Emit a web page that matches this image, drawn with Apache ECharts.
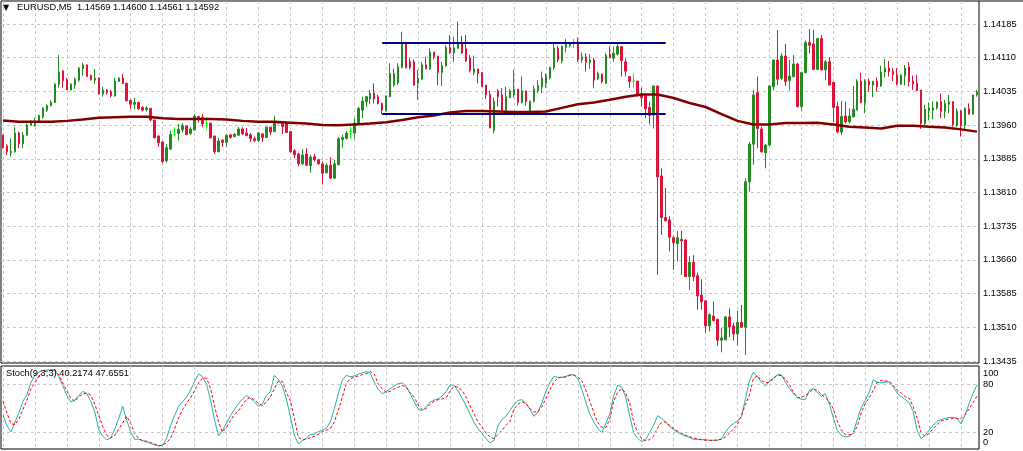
<!DOCTYPE html>
<html>
<head>
<meta charset="utf-8">
<script src="https://cdn.jsdelivr.net/npm/echarts@6/dist/echarts.min.js"></script>
<style>
html, body { margin: 0; padding: 0; background: #fff; }
#chart { width: 1023px; height: 451px; }
</style>
</head>
<body>
<div id="chart"></div>
<script>
// EURUSD M5 candles
var opens = [
  1.13936,1.13912,1.13897,1.13899,1.13941,1.13917,1.13936,1.13958,1.13957,1.13968,
  1.13977,1.13992,1.14002,1.14009,1.14050,1.14080,1.14060,1.14037,1.14048,1.14059,
  1.14085,1.14093,1.14070,1.14059,1.14064,1.14028,1.14037,1.14033,1.14024,1.14056,
  1.14064,1.14052,1.14014,1.14005,1.14009,1.13998,1.13993,1.13996,1.13970,1.13934,
  1.13921,1.13879,1.13905,1.13938,1.13940,1.13948,1.13957,1.13940,1.13948,1.13978,
  1.13976,1.13963,1.13963,1.13934,1.13899,1.13925,1.13920,1.13937,1.13933,1.13936,
  1.13950,1.13941,1.13937,1.13928,1.13924,1.13939,1.13931,1.13954,1.13944,1.13963,
  1.13966,1.13963,1.13944,1.13901,1.13894,1.13872,1.13894,1.13868,1.13888,1.13881,
  1.13872,1.13852,1.13869,1.13840,1.13870,1.13926,1.13929,1.13944,1.13941,1.13963,
  1.13992,1.14011,1.14017,1.14030,1.14022,1.14007,1.13991,1.14022,1.14048,1.14053,
  1.14087,1.14141,1.14100,1.14100,1.14052,1.14061,1.14093,1.14084,1.14122,1.14113,
  1.14076,1.14091,1.14132,1.14120,1.14130,1.14141,1.14130,1.14108,1.14076,1.14084,
  1.14076,1.14048,1.14027,1.13947,1.14035,1.14026,1.13992,1.14020,1.14026,1.14039,
  1.14009,1.14035,1.13988,1.14012,1.14035,1.14044,1.14052,1.14064,1.14087,1.14130,
  1.14102,1.14132,1.14136,1.14141,1.14145,1.14104,1.14111,1.14098,1.14104,1.14062,
  1.14072,1.14052,1.14117,1.14108,1.14117,1.14134,1.14100,1.14067,1.14057,1.14057,
  1.14028,1.14026,1.13998,1.13981,1.14046,1.13845,1.13752,1.13747,1.13707,1.13694,
  1.13703,1.13702,1.13620,1.13652,1.13622,1.13579,1.13566,1.13510,1.13532,1.13525,
  1.13478,1.13479,1.13530,1.13510,1.13492,1.13518,1.13507,1.13832,1.13916,1.14031,
  1.13950,1.13897,1.13914,1.14044,1.14104,1.14063,1.14113,1.14058,1.14067,1.14095,
  1.14000,1.14076,1.14143,1.14140,1.14083,1.14152,1.14082,1.14100,1.14054,1.14000,
  1.13943,1.13979,1.13966,1.13977,1.13992,1.14057,1.14009,1.14057,1.14048,1.14057,
  1.14046,1.14077,1.14086,1.14079,1.14070,1.14050,1.14069,1.14089,1.14057,1.14052,
  1.14037,1.13962,1.13992,1.13992,1.13997,1.14011,1.13989,1.14005,1.14011,1.13958,
  1.13990,1.13958,1.13995,1.13983,1.14026
];
var closes = [
  1.13908,1.13899,1.13900,1.13941,1.13917,1.13936,1.13959,1.13965,1.13968,1.13980,
  1.13996,1.14002,1.14010,1.14050,1.14077,1.14058,1.14037,1.14050,1.14061,1.14086,
  1.14093,1.14067,1.14060,1.14063,1.14028,1.14037,1.14031,1.14024,1.14057,1.14063,
  1.14051,1.14013,1.14005,1.14009,1.13995,1.13992,1.13997,1.13970,1.13930,1.13919,
  1.13877,1.13908,1.13938,1.13938,1.13949,1.13957,1.13937,1.13950,1.13979,1.13972,
  1.13961,1.13963,1.13930,1.13899,1.13923,1.13920,1.13936,1.13931,1.13938,1.13950,
  1.13939,1.13935,1.13928,1.13924,1.13941,1.13931,1.13954,1.13943,1.13966,1.13966,
  1.13955,1.13942,1.13899,1.13892,1.13872,1.13892,1.13869,1.13887,1.13881,1.13872,
  1.13851,1.13869,1.13840,1.13872,1.13928,1.13931,1.13941,1.13944,1.13963,1.13996,
  1.14012,1.14022,1.14030,1.14017,1.14007,1.13992,1.14024,1.14074,1.14074,1.14089,
  1.14141,1.14087,1.14087,1.14048,1.14063,1.14093,1.14084,1.14122,1.14111,1.14076,
  1.14091,1.14132,1.14120,1.14131,1.14141,1.14120,1.14102,1.14080,1.14084,1.14074,
  1.14044,1.14026,1.13952,1.14012,1.14022,1.13992,1.14022,1.14035,1.14039,1.14009,
  1.14035,1.14011,1.14012,1.14039,1.14047,1.14064,1.14068,1.14087,1.14131,1.14104,
  1.14134,1.14139,1.14141,1.14141,1.14104,1.14111,1.14099,1.14104,1.14059,1.14074,
  1.14056,1.14115,1.14109,1.14119,1.14134,1.14103,1.14079,1.14056,1.14057,1.14026,
  1.14020,1.13995,1.13980,1.14046,1.13843,1.13752,1.13745,1.13708,1.13696,1.13707,
  1.13700,1.13620,1.13652,1.13620,1.13577,1.13564,1.13510,1.13535,1.13522,1.13478,
  1.13483,1.13530,1.13508,1.13492,1.13518,1.13507,1.13832,1.13916,1.14026,1.13951,
  1.13899,1.13914,1.14046,1.14104,1.14061,1.14113,1.14056,1.14068,1.14095,1.14000,
  1.14076,1.14143,1.14137,1.14083,1.14152,1.14082,1.14100,1.14048,1.13998,1.13943,
  1.13978,1.13966,1.13979,1.13994,1.14057,1.14009,1.14057,1.14048,1.14057,1.14044,
  1.14077,1.14086,1.14078,1.14072,1.14050,1.14070,1.14086,1.14056,1.14050,1.14035,
  1.13962,1.13994,1.13997,1.13997,1.14010,1.13989,1.14007,1.14011,1.13960,1.13990,
  1.13957,1.13996,1.13983,1.14026,1.14033
];
var lows = [
  1.13906,1.13892,1.13888,1.13897,1.13907,1.13907,1.13935,1.13957,1.13955,1.13966,
  1.13973,1.13988,1.14000,1.14008,1.14042,1.14042,1.14037,1.14036,1.14040,1.14055,
  1.14068,1.14066,1.14058,1.14050,1.14027,1.14022,1.14027,1.14020,1.14022,1.14055,
  1.14051,1.14012,1.13995,1.13994,1.13992,1.13989,1.13989,1.13967,1.13929,1.13910,
  1.13873,1.13875,1.13903,1.13933,1.13924,1.13942,1.13937,1.13936,1.13946,1.13964,
  1.13954,1.13949,1.13929,1.13894,1.13898,1.13910,1.13911,1.13928,1.13931,1.13935,
  1.13936,1.13934,1.13921,1.13920,1.13921,1.13921,1.13930,1.13936,1.13943,1.13962,
  1.13938,1.13941,1.13897,1.13885,1.13867,1.13870,1.13867,1.13852,1.13877,1.13870,
  1.13826,1.13851,1.13838,1.13838,1.13869,1.13908,1.13926,1.13929,1.13928,1.13961,
  1.13974,1.13999,1.14005,1.14007,1.14005,1.13983,1.13989,1.14021,1.14044,1.14048,
  1.14085,1.14085,1.14083,1.14046,1.14015,1.14059,1.14084,1.14082,1.14106,1.14048,
  1.14046,1.14089,1.14117,1.14100,1.14129,1.14117,1.14100,1.14076,1.14070,1.14052,
  1.14044,1.14017,1.13952,1.13940,1.14000,1.13988,1.13988,1.14019,1.14020,1.14002,
  1.14007,1.14002,1.13987,1.14009,1.14030,1.14030,1.14042,1.14061,1.14082,1.14099,
  1.14097,1.14121,1.14132,1.14131,1.14100,1.14097,1.14078,1.14084,1.14041,1.14059,
  1.14052,1.14050,1.14108,1.14100,1.14114,1.14067,1.14067,1.14042,1.14042,1.14022,
  1.14000,1.13974,1.13960,1.13951,1.13624,1.13713,1.13743,1.13676,1.13635,1.13654,
  1.13624,1.13620,1.13590,1.13610,1.13546,1.13546,1.13495,1.13497,1.13520,1.13466,
  1.13451,1.13479,1.13485,1.13477,1.13466,1.13505,1.13445,1.13810,1.13870,1.13907,
  1.13897,1.13862,1.13912,1.14036,1.14048,1.14059,1.14046,1.14036,1.14065,1.13998,
  1.13991,1.14074,1.14119,1.14082,1.14082,1.14080,1.14059,1.14048,1.13966,1.13940,
  1.13936,1.13962,1.13962,1.13976,1.13992,1.14007,1.13985,1.14033,1.14021,1.14033,
  1.14044,1.14065,1.14067,1.14057,1.14047,1.14048,1.14047,1.14045,1.14037,1.14035,
  1.13950,1.13957,1.13969,1.13972,1.13993,1.13974,1.13974,1.13985,1.13955,1.13955,
  1.13933,1.13950,1.13983,1.13982,1.14022
];
var highs = [
  1.13937,1.13916,1.13929,1.13954,1.13944,1.13943,1.13962,1.13970,1.13975,1.13982,
  1.13999,1.14005,1.14014,1.14052,1.14115,1.14080,1.14064,1.14052,1.14065,1.14088,
  1.14098,1.14094,1.14071,1.14084,1.14065,1.14044,1.14039,1.14037,1.14064,1.14066,
  1.14073,1.14053,1.14015,1.14019,1.14011,1.14001,1.14001,1.13997,1.13970,1.13936,
  1.13921,1.13916,1.13946,1.13954,1.13961,1.13963,1.13957,1.13954,1.13983,1.13979,
  1.13983,1.13976,1.13964,1.13935,1.13930,1.13927,1.13937,1.13938,1.13941,1.13954,
  1.13954,1.13952,1.13941,1.13933,1.13943,1.13939,1.13955,1.13954,1.13979,1.13968,
  1.13966,1.13963,1.13944,1.13905,1.13897,1.13905,1.13907,1.13892,1.13894,1.13883,
  1.13877,1.13874,1.13887,1.13881,1.13932,1.13937,1.13945,1.13955,1.13974,1.13999,
  1.14022,1.14024,1.14037,1.14052,1.14026,1.14009,1.14024,1.14097,1.14085,1.14097,
  1.14167,1.14141,1.14108,1.14105,1.14082,1.14100,1.14111,1.14130,1.14122,1.14113,
  1.14100,1.14137,1.14160,1.14156,1.14190,1.14158,1.14160,1.14115,1.14114,1.14084,
  1.14076,1.14048,1.14035,1.14020,1.14039,1.14041,1.14044,1.14039,1.14082,1.14039,
  1.14067,1.14035,1.14013,1.14047,1.14059,1.14078,1.14074,1.14089,1.14141,1.14136,
  1.14136,1.14151,1.14143,1.14151,1.14154,1.14121,1.14119,1.14117,1.14109,1.14078,
  1.14074,1.14119,1.14135,1.14134,1.14139,1.14135,1.14108,1.14067,1.14074,1.14057,
  1.14042,1.14030,1.14011,1.14047,1.14046,1.13862,1.13818,1.13755,1.13711,1.13722,
  1.13722,1.13703,1.13666,1.13668,1.13629,1.13614,1.13566,1.13538,1.13565,1.13525,
  1.13505,1.13532,1.13549,1.13517,1.13544,1.13557,1.13840,1.13921,1.14037,1.14067,
  1.13955,1.13916,1.14048,1.14104,1.14171,1.14119,1.14140,1.14104,1.14115,1.14098,
  1.14078,1.14147,1.14173,1.14171,1.14152,1.14160,1.14104,1.14111,1.14055,1.14011,
  1.14013,1.14011,1.13996,1.14046,1.14061,1.14076,1.14061,1.14063,1.14057,1.14065,
  1.14091,1.14106,1.14102,1.14086,1.14086,1.14073,1.14093,1.14099,1.14069,1.14071,
  1.14037,1.14004,1.14009,1.14011,1.14011,1.14029,1.14015,1.14026,1.14011,1.13996,
  1.13992,1.13998,1.14007,1.14026,1.14037
];

// moving average, sampled every 4 bars
var maIdx = [0,4,8,12,16,20,24,28,32,36,40,44,48,52,56,60,64,68,72,76,80,84,88,92,96,100,
  104,108,112,116,120,124,128,132,136,140,144,148,152,156,160,164,168,172,176,180,184,188,
  192,196,200,204,208,212,216,220,224,228,232,236,240,244];
var maVal = [1.13969,1.13966,1.13966,1.13966,1.13968,1.13971,1.13975,1.13976,1.13977,1.13977,
  1.13974,1.13972,1.13972,1.13972,1.13971,1.13968,1.13966,1.13966,1.13964,1.13962,1.13959,
  1.13958,1.13960,1.13962,1.13965,1.13970,1.13976,1.13980,1.13987,1.13990,1.13990,1.13989,
  1.13988,1.13988,1.13989,1.13997,1.14005,1.14009,1.14015,1.14022,1.14027,1.14027,1.14019,
  1.14008,1.13999,1.13983,1.13968,1.13960,1.13960,1.13963,1.13963,1.13964,1.13960,1.13955,
  1.13953,1.13951,1.13957,1.13957,1.13955,1.13953,1.13949,1.13944];

// range box drawn on the chart: two levels between bar 95 and bar 166
var boxLevels = [1.14142, 1.13984];
var boxFrom = 95, boxTo = 166;

// Stochastic (9,3,3)
var stochK = [
  41.9,28.7,20.9,33.3,44.8,58.9,67.1,82.4,91.1,95.2,
  96.9,97.7,98.1,96.9,89.4,78.3,65.9,58.5,60.5,66.3,
  71.3,68.4,58.9,45.7,23.8,15.5,11.0,13.9,24.2,37.8,
  52.7,35.3,20.9,11.8,11.8,10.1,8.5,6.8,4.8,3.5,
  4.4,13.4,29.1,41.5,52.7,58.5,64.2,72.9,83.6,92.7,
  89.4,79.9,60.1,35.3,15.9,22.5,32.0,41.1,48.9,56.0,
  61.8,66.3,62.6,58.0,52.7,55.6,66.3,71.3,91.1,86.1,
  77.4,61.8,39.5,16.7,6.0,10.1,13.4,18.0,18.0,21.3,
  22.9,25.4,33.3,49.8,68.4,84.9,91.1,89.4,90.3,92.7,
  94.4,95.6,94.0,82.8,73.7,68.4,70.8,74.6,78.3,80.7,
  81.6,77.4,68.4,58.5,49.4,47.3,52.3,58.0,60.5,61.8,
  65.5,70.8,79.5,78.7,71.7,63.0,53.5,43.2,32.9,25.0,
  18.8,12.6,7.2,10.5,28.3,36.2,40.7,47.7,54.7,60.1,
  60.9,56.4,48.9,40.3,45.7,56.8,71.3,82.0,89.8,88.6,
  88.6,89.8,91.9,91.9,86.9,73.7,58.0,43.2,33.3,25.4,
  20.0,31.2,43.2,66.3,78.7,76.6,64.2,40.7,19.6,13.0,
  8.9,11.4,20.5,29.5,41.1,37.8,33.3,27.5,23.8,20.5,
  18.0,15.9,13.9,11.8,11.8,11.8,11.4,10.5,10.5,10.5,
  12.6,20.9,27.5,31.2,34.5,39.9,62.2,84.9,95.2,89.4,
  82.4,77.9,83.6,87.8,91.9,91.9,82.8,74.6,69.2,63.8,
  61.3,61.3,72.5,74.6,69.6,65.1,68.4,56.0,38.6,22.9,
  16.7,14.7,15.1,20.0,36.2,51.0,60.1,70.4,85.7,82.4,
  82.0,82.8,82.8,77.0,69.2,64.6,61.3,57.2,46.5,22.9,
  12.6,16.7,23.3,29.1,34.1,36.2,37.8,39.0,39.0,37.8,
  30.8,41.5,56.0,68.4,79.5
];
var stochD = [
  59.3,44.4,31.2,30.0,37.0,48.9,60.5,74.6,82.0,90.3,
  94.8,96.4,97.3,98.5,91.1,81.6,71.7,63.0,58.9,64.6,
  67.9,69.2,66.7,55.2,41.1,27.5,16.7,13.4,16.7,24.2,
  32.4,40.3,31.2,19.2,12.6,10.1,9.3,7.7,6.0,3.9,
  4.4,7.7,13.4,25.0,38.2,48.9,56.8,63.4,72.5,81.6,
  87.8,87.8,74.6,52.7,33.3,20.9,26.7,35.3,42.4,47.3,
  54.7,61.3,63.8,60.5,56.4,53.9,58.0,64.6,75.0,84.1,
  83.6,69.6,59.7,37.4,14.3,11.0,11.8,13.9,15.5,18.0,
  21.3,22.9,25.0,33.3,47.7,64.2,81.2,86.9,89.0,90.3,
  91.9,93.1,96.0,92.7,80.7,74.6,70.0,71.3,74.6,76.2,
  78.7,76.2,69.6,64.2,54.3,48.5,49.8,55.2,58.9,60.9,
  61.8,63.4,71.3,77.9,76.2,72.5,64.2,53.5,43.6,33.3,
  27.1,19.6,14.7,12.6,17.6,22.9,29.1,34.1,49.4,55.2,
  58.5,56.0,50.2,45.7,46.1,52.3,62.2,73.7,82.8,87.8,
  89.0,89.0,91.1,91.5,89.4,84.5,72.5,59.3,44.8,32.4,
  26.7,26.2,36.6,58.9,70.4,74.2,69.2,56.4,32.9,20.0,
  12.6,10.1,11.4,15.9,26.2,32.9,33.3,29.1,25.0,21.7,
  19.2,16.7,15.1,13.4,12.2,11.0,10.5,10.5,10.5,11.0,
  11.8,14.7,19.2,24.6,30.0,41.5,55.2,67.1,87.4,90.7,
  84.9,81.6,82.8,86.9,91.5,90.7,86.5,79.5,70.4,63.4,
  63.8,66.3,69.6,74.2,72.5,67.5,63.4,58.5,49.8,34.1,
  23.8,17.6,17.2,18.8,27.9,44.4,56.0,63.4,72.5,82.4,
  84.9,84.1,83.6,78.7,72.9,69.2,64.6,63.0,52.3,38.2,
  20.0,15.5,19.2,25.0,30.0,34.5,35.7,37.0,37.4,37.4,
  37.4,42.8,49.4,57.2,65.1
];
var stochLevels = [20, 80];
var stochTicks = [0, 20, 80, 100];

var chart = echarts.init(document.getElementById('chart'));

var font = 'Liberation Sans';
var gridColor = '#c8c8c8';

var cats = [];
var candles = [];
for (var i = 0; i < opens.length; i++) {
  cats.push(String(i));
  candles.push([opens[i], closes[i], lows[i], highs[i]]);
}
var maData = maIdx.map(function (x, k) { return [x, maVal[k]]; });
var boxLines = boxLevels.map(function (v) {
  return [{ coord: [boxFrom, v] }, { coord: [boxTo, v] }];
});

// panel geometry (pixels)
var step = 978 / cats.length;
var vgLeft = 1 + step / 2;
var vgWidth = step * 240;

function dashed(show) {
  return { show: show, lineStyle: { color: gridColor, width: 1, type: [3, 3] } };
}
function hiddenValue(grid) {
  return { type: 'value', gridIndex: grid, show: false };
}

var option = {
  backgroundColor: '#fff',
  animation: false,
  title: [
    { text: '\u25BC', left: 3, top: 4, padding: 0,
      textStyle: { fontSize: 8, fontFamily: 'DejaVu Sans', fontWeight: 'normal', color: '#000' } },
    { text: 'EURUSD,M5  1.14569 1.14600 1.14561 1.14592', left: 17, top: 3, padding: 0,
      textStyle: { fontSize: 9.3, fontFamily: font, fontWeight: 'normal', color: '#000' } },
    { text: 'Stoch(9,3,3) 40.2174 47.6551', left: 6, top: 369, padding: 0,
      textStyle: { fontSize: 9.3, fontFamily: font, fontWeight: 'normal', color: '#000' } }
  ],
  grid: [
    { left: 1, top: 1, width: 978, height: 362, show: true, borderColor: '#000', borderWidth: 1, outerBoundsMode: 'none' },
    { left: 1, top: 24, width: 978, height: 337, outerBoundsMode: 'none' },
    { left: vgLeft, top: 1, width: vgWidth, height: 362, outerBoundsMode: 'none' },
    { left: 1, top: 366, width: 978, height: 83, show: true, borderColor: '#000', borderWidth: 1, outerBoundsMode: 'none' },
    { left: 1, top: 368.2, width: 978, height: 80.6, outerBoundsMode: 'none' },
    { left: vgLeft, top: 366, width: vgWidth, height: 83, outerBoundsMode: 'none' }
  ],
  xAxis: [
    { type: 'category', gridIndex: 0, data: cats, boundaryGap: true, show: false },
    hiddenValue(1),
    { type: 'value', gridIndex: 2, min: 0, max: 240, interval: 8,
      axisLine: { show: false }, axisTick: { show: false }, axisLabel: { show: false },
      splitLine: dashed(true) },
    hiddenValue(3),
    { type: 'category', gridIndex: 4, data: cats, boundaryGap: true, show: false },
    { type: 'value', gridIndex: 5, min: 0, max: 240, interval: 8,
      axisLine: { show: false }, axisTick: { show: false }, axisLabel: { show: false },
      splitLine: dashed(true) }
  ],
  yAxis: [
    { type: 'value', gridIndex: 0, min: 1.134271, max: 1.142358, show: false },
    { type: 'value', gridIndex: 1, position: 'right', min: 1.13435, max: 1.14185, interval: 0.00075,
      axisLine: { show: false }, axisTick: { show: false },
      axisLabel: { margin: 4, color: '#000', fontSize: 9.3, fontFamily: font,
        formatter: function (v) { return v.toFixed(5); } },
      splitLine: dashed(true) },
    hiddenValue(2),
    hiddenValue(3),
    { type: 'value', gridIndex: 4, position: 'right', min: 0, max: 100, interval: 20,
      axisLine: { show: false }, axisTick: { show: false }, splitLine: { show: false },
      axisLabel: {
        margin: 4, color: '#000', fontSize: 9.3, fontFamily: font,
        formatter: function (v) {
          if (stochTicks.indexOf(v) < 0) return '';
          if (v === 100) return '{t|100}';
          if (v === 0) return '{b|0}';
          return String(v);
        },
        rich: {
          t: { padding: [11, 0, 0, 0], fontSize: 9.3, fontFamily: font, color: '#000' },
          b: { padding: [0, 0, 13, 0], fontSize: 9.3, fontFamily: font, color: '#000' }
        }
      } },
    hiddenValue(5)
  ],
  series: [
    {
      name: 'EURUSD', type: 'candlestick', xAxisIndex: 0, yAxisIndex: 0,
      data: candles, barWidth: 2,
      itemStyle: {
        color: '#228B22', color0: '#DC143C',
        borderColor: '#228B22', borderColor0: '#DC143C', borderColorDoji: '#00FF00',
        borderWidth: 1
      },
      markLine: {
        silent: true, symbol: ['none', 'none'], label: { show: false },
        lineStyle: { color: '#000080', width: 2, type: 'solid' },
        data: boxLines
      }
    },
    {
      name: 'MA', type: 'line', xAxisIndex: 0, yAxisIndex: 0, data: maData,
      showSymbol: false, z: 3,
      lineStyle: { color: '#800000', width: 2.5 }
    },
    {
      name: '%K', type: 'line', xAxisIndex: 4, yAxisIndex: 4, data: stochK,
      showSymbol: false,
      lineStyle: { color: '#20B2AA', width: 1 },
      markLine: {
        silent: true, symbol: ['none', 'none'], label: { show: false },
        lineStyle: { color: gridColor, width: 1, type: [3, 3] },
        data: stochLevels.map(function (v) { return { yAxis: v }; })
      }
    },
    {
      name: '%D', type: 'line', xAxisIndex: 4, yAxisIndex: 4, data: stochD,
      showSymbol: false,
      lineStyle: { color: '#FF0000', width: 1, type: [3, 2] }
    }
  ],
  graphic: [
    { type: 'line', shape: { x1: 979, y1: 1, x2: 1023, y2: 1 },
      style: { stroke: '#000', lineWidth: 1 }, silent: true }
  ]
};

chart.setOption(option);
</script>
</body>
</html>
